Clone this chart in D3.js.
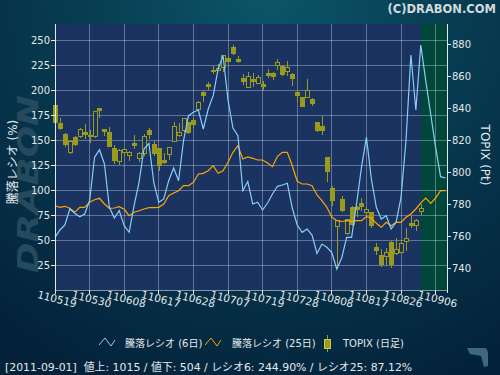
<!DOCTYPE html>
<html>
<head>
<meta charset="utf-8">
<script src="https://cdn.jsdelivr.net/npm/d3@7"></script>
<style>
  html, body { margin: 0; padding: 0; background: #052a3e; }
  svg { display: block; }
  text { font-family: "DejaVu Sans", "Noto Sans CJK JP", sans-serif; }
</style>
</head>
<body>
<div id="chart"></div>
<script>
// trading days (yymmdd), the last few only carry the ratio lines
const dates = [
  "110519","110520","110523","110524","110525","110526","110527","110530","110531",
  "110601","110602","110603","110606","110607","110608","110609","110610","110613","110614","110615",
  "110616","110617","110620","110621","110622","110623","110624","110627","110628","110629","110630",
  "110701","110704","110705","110706","110707","110708","110711","110712","110713","110714","110715",
  "110719","110720","110721","110722","110725","110726","110727","110728","110729",
  "110801","110802","110803","110804","110805","110808","110809","110810","110811","110812","110815",
  "110816","110817","110818","110819","110822","110823","110824","110825","110826","110829","110830","110831",
  "110901","110902","110905","110906","110907","110908"
];

// TOPIX daily candles (Pt)
const topixOpen = [841.6,830.2,823.9,812.1,821.9,822.2,825.0,823.3,822.2,839.7,826.9,825.0,814.6,806.7,812.3,810.4,818.3,808.4,811.9,826.4,
  817.1,814.6,807.7,811.0,819.4,822.9,826.4,830.8,832.2,838.9,849.5,854.5,863.8,863.8,865.5,870.7,877.9,870.2,858.6,853.0,
  857.6,855.5,854.5,861.9,861.7,866.5,865.9,862.7,861.3,849.9,846.4,846.8,845.7,831.2,828.7,809.0,789.7,766.4,783.4,762.0,
  778.2,778.2,780.8,775.1,775.1,752.9,748.5,747.7,756.5,749.2,749.8,756.8,767.9,766.8,775.8];
const topixHigh = [843.1,833.9,824.4,819.8,822.7,827.7,830.2,826.4,838.4,840.1,827.2,828.1,816.9,814.6,815.2,813.5,823.3,812.5,823.9,827.5,
  819.8,815.2,812.1,816.0,831.2,830.8,833.9,831.4,833.7,844.3,850.5,856.3,866.5,867.5,873.1,872.7,879.4,872.3,861.3,862.4,
  861.7,860.9,856.8,864.4,862.4,870.7,866.9,869.2,861.7,851.5,846.8,858.2,846.4,831.6,835.0,809.8,791.3,770.3,785.1,770.9,
  779.2,779.2,784.1,778.2,775.5,755.8,752.3,752.9,757.5,759.1,756.5,765.4,773.7,770.9,780.3];
const topixLow = [829.5,826.4,816.0,811.5,816.6,821.4,820.8,818.1,821.6,833.9,822.7,815.6,805.2,804.8,810.4,807.3,814.6,806.7,810.4,820.6,
  810.0,801.1,805.2,807.7,818.8,822.2,825.4,823.9,827.7,838.1,843.7,851.5,861.3,863.0,862.7,868.0,873.3,868.0,854.6,852.6,
  853.0,855.1,851.5,858.6,857.8,864.0,860.3,859.9,854.0,844.1,840.9,846.4,841.6,825.2,823.5,793.8,779.3,739.8,775.1,761.2,
  766.8,772.0,776.1,772.4,765.4,748.7,741.3,741.9,740.3,748.7,749.2,751.2,765.4,763.7,773.5];
const topixClose = [830.8,827.2,817.3,819.1,817.3,827.0,823.5,822.2,838.1,838.4,825.2,816.0,807.3,813.5,814.0,812.7,816.6,811.9,822.5,823.9,
  811.5,804.2,805.9,815.6,828.7,825.0,833.3,824.6,829.7,843.7,847.8,853.4,862.7,865.0,872.7,869.2,874.2,869.2,856.5,859.9,
  856.5,859.3,853.4,860.1,859.6,868.6,861.3,865.5,858.6,847.8,841.2,851.3,843.2,826.0,826.0,800.4,782.4,769.9,776.1,770.5,
  767.8,777.0,778.6,776.6,766.8,751.2,742.5,750.2,742.5,751.7,755.8,758.5,766.6,770.3,777.8];

// advance/decline ratio (%)
const ratio6 = [52.7,60,65,81,76.7,73.3,76,89.3,132.7,140.3,126,82.7,72,79.3,64.3,57.7,84.3,107.7,141,146.7,
  107,87.7,91,109.3,122,109.3,149.3,174.3,177.7,180,161,181,194.3,221,234.3,190,162,154.3,99.3,108.5,
  86,87.7,80,87,96,103.7,105,106.7,82,65,57.7,61,55,36.7,46,42.7,37.5,21,32,52.7,
  52.7,86,122.7,152.7,111,82.7,71,74.3,61,67.7,92.7,149.3,235,180,244.9,209.3,176,142.7,113.3,112];
const ratio25 = [84.3,82.7,83.7,81.7,77.7,82.7,82.7,87.7,90.3,91.7,86,81.7,82,83.3,80.7,74.3,77.7,79.3,81,82.3,
  82.3,82.7,86,94.3,97,99.3,104.3,104.3,107.7,116,116.7,119.3,124.3,116.7,119.3,127.7,137.7,144.3,131,133,
  131.7,130,130,127,123.3,133.7,137.7,137.7,124.3,108.7,106,106,104.3,95,89.3,82.7,73,69.3,68.5,69.3,
  68.7,69.3,69.3,73.3,72,66.7,62.7,67.7,64.3,67.7,67.7,72.7,76,81,87.1,92,86.7,92,99.3,99.3];

const leftTicks = [25,50,75,100,125,150,175,200,225,250];
const rightTicks = [740,760,780,800,820,840,860,880];
const dateTickIdx = [0,7,14,21,28,35,42,49,56,63,70,77];
const lastDataIdx = 74;   // 2011-09-01, start of the green band

const seriesNames = ["騰落レシオ (6日)", "騰落レシオ (25日)", "TOPIX (日足)"];
const statusLine = "[2011-09-01]  値上: 1015 / 値下: 504 / レシオ6: 244.90% / レシオ25: 87.12%";

const width = 500, height = 375;
const plot = {left: 55, right: 447, top: 24, bottom: 290};

const svg = d3.select("#chart").append("svg")
  .attr("width", width)
  .attr("height", height);

// background
const defs = svg.append("defs");
const bg = defs.append("radialGradient")
  .attr("id", "bg").attr("gradientUnits", "userSpaceOnUse")
  .attr("cx", 270).attr("cy", -10).attr("r", 430);
bg.append("stop").attr("offset", 0).attr("stop-color", "#0c5668");
bg.append("stop").attr("offset", 0.45).attr("stop-color", "#073c52");
bg.append("stop").attr("offset", 1).attr("stop-color", "#03223a");
svg.append("rect").attr("width", width).attr("height", height).attr("fill", "url(#bg)");

// watermark
svg.append("text")
  .attr("transform", "translate(38,184) rotate(-90)")
  .attr("text-anchor", "middle")
  .attr("textLength", 178).attr("lengthAdjust", "spacingAndGlyphs")
  .style("font-size", "29px").style("font-weight", "bold").style("font-style", "italic")
  .attr("fill", "#254a5d")
  .text("DRABON");

svg.append("text")
  .attr("x", 496).attr("y", 13)
  .attr("text-anchor", "end")
  .style("font-size", "11.5px").style("font-weight", "bold")
  .attr("fill", "#d2dadd")
  .text("(C)DRABON.COM");

// scales
const x = d3.scaleLinear().domain([0, 79.3]).range([plot.left, plot.right]);
const yL = d3.scaleLinear().domain([0, 266]).range([plot.bottom, plot.top]);
const yR = d3.scaleLinear().domain([726.7, 892.5]).range([plot.bottom, plot.top]);

// plot area
svg.append("rect")
  .attr("x", plot.left).attr("y", plot.top)
  .attr("width", plot.right - plot.left).attr("height", plot.bottom - plot.top)
  .attr("fill", "#1a3360");
svg.append("rect")
  .attr("x", x(lastDataIdx)).attr("y", plot.top)
  .attr("width", plot.right - x(lastDataIdx)).attr("height", plot.bottom - plot.top)
  .attr("fill", "#01463a");

const grid = svg.append("g")
  .attr("stroke", "rgba(255,255,255,0.32)")
  .attr("shape-rendering", "crispEdges");
grid.selectAll("line.h").data(leftTicks).join("line")
  .attr("class", "h")
  .attr("x1", plot.left).attr("x2", plot.right)
  .attr("y1", d => yL(d)).attr("y2", d => yL(d));
grid.selectAll("line.v").data(dateTickIdx.slice(1)).join("line")
  .attr("class", "v")
  .attr("x1", d => x(d)).attr("x2", d => x(d))
  .attr("y1", plot.top).attr("y2", plot.bottom);

// candles
const candles = topixClose.map((c, i) => ({i: i, o: topixOpen[i], h: topixHigh[i], l: topixLow[i], c: c}));
const olive = "#9a9a1c";
const cg = svg.append("g").attr("shape-rendering", "crispEdges");
cg.selectAll("line").data(candles).join("line")
  .attr("x1", d => Math.round(x(d.i)) + 0.5).attr("x2", d => Math.round(x(d.i)) + 0.5)
  .attr("y1", d => yR(d.h)).attr("y2", d => yR(d.l))
  .attr("stroke", olive);
cg.selectAll("rect").data(candles).join("rect")
  .attr("x", d => Math.round(x(d.i)) - 1.5)
  .attr("width", 4)
  .attr("y", d => yR(Math.max(d.o, d.c)))
  .attr("height", d => Math.max(1, Math.abs(yR(d.o) - yR(d.c))))
  .attr("fill", d => d.c > d.o ? "#1a3360" : olive)
  .attr("stroke", olive);

// ratio lines
const line = d3.line().x((d, i) => x(i)).y(d => yL(d));
svg.append("path").datum(ratio25)
  .attr("d", line).attr("fill", "none")
  .attr("stroke", "#ffa500").attr("stroke-width", 1.2);
svg.append("path").datum(ratio6)
  .attr("d", line).attr("fill", "none")
  .attr("stroke", "#87cefa").attr("stroke-width", 1.2);

// axes
const axisCol = "#e4e8ea";
const ax = svg.append("g").attr("stroke", axisCol).attr("shape-rendering", "crispEdges");
ax.append("line").attr("x1", plot.left).attr("x2", plot.left).attr("y1", plot.top).attr("y2", plot.bottom + 3);
ax.append("line").attr("x1", plot.right).attr("x2", plot.right).attr("y1", plot.top).attr("y2", plot.bottom + 3);
ax.append("line").attr("x1", plot.left).attr("x2", plot.right).attr("y1", plot.bottom).attr("y2", plot.bottom)
  .attr("stroke", "rgba(255,255,255,0.5)");
ax.selectAll("line.lt").data(leftTicks).join("line").attr("class", "lt")
  .attr("x1", plot.left - 4).attr("x2", plot.left)
  .attr("y1", d => yL(d)).attr("y2", d => yL(d));
ax.selectAll("line.rt").data(rightTicks).join("line").attr("class", "rt")
  .attr("x1", plot.right).attr("x2", plot.right + 4)
  .attr("y1", d => yR(d)).attr("y2", d => yR(d));
ax.selectAll("line.xt").data(dateTickIdx).join("line").attr("class", "xt")
  .attr("x1", d => x(d)).attr("x2", d => x(d))
  .attr("y1", plot.bottom).attr("y2", plot.bottom + 4);

svg.append("g").selectAll("text").data(leftTicks).join("text")
  .attr("x", plot.left - 5).attr("y", d => yL(d)).attr("dy", "0.36em")
  .attr("text-anchor", "end").attr("fill", axisCol).style("font-size", "10px")
  .text(d => d);
svg.append("g").selectAll("text").data(rightTicks).join("text")
  .attr("x", plot.right + 5).attr("y", d => yR(d)).attr("dy", "0.36em")
  .attr("fill", axisCol).style("font-size", "10px")
  .text(d => d);
svg.append("g").selectAll("text").data(dateTickIdx).join("text")
  .attr("transform", d => `translate(${x(d) + 2},${plot.bottom + 9}) rotate(14)`)
  .attr("dy", "0.36em").attr("text-anchor", "middle")
  .attr("fill", axisCol).style("font-size", "10.5px")
  .text(d => dates[d]);

svg.append("text")
  .attr("transform", "translate(17,162) rotate(-90)")
  .attr("text-anchor", "middle").attr("fill", axisCol).style("font-size", "12px")
  .text("騰落レシオ (%)");
svg.append("text")
  .attr("transform", "translate(481,155) rotate(90)")
  .attr("text-anchor", "middle").attr("fill", axisCol).style("font-size", "12px")
  .text("TOPIX (Pt)");

// legend
const lg = svg.append("g");
const zig = [[0, 7], [6, 0], [12, 8], [16, 2]];
[["#87cefa", 99], ["#ffa500", 205]].forEach(([col, lx]) => {
  lg.append("polyline")
    .attr("points", zig.map(p => [lx + p[0], 338 + p[1]].join(",")).join(" "))
    .attr("fill", "none").attr("stroke", col).attr("stroke-width", 1);
});
lg.append("line").attr("x1", 327.5).attr("x2", 327.5).attr("y1", 335).attr("y2", 352).attr("stroke", olive);
lg.append("rect").attr("x", 324.5).attr("y", 339.5).attr("width", 6).attr("height", 9)
  .attr("fill", olive).attr("stroke", "#c8c84a");
lg.selectAll("text").data(seriesNames).join("text")
  .attr("x", (d, i) => [125, 232, 343][i]).attr("y", 347)
  .attr("fill", axisCol).style("font-size", "10px")
  .text(d => d);

svg.append("text")
  .attr("x", 5).attr("y", 371)
  .attr("fill", axisCol).style("font-size", "10.9px").style("white-space", "pre")
  .text(statusLine);

// small corner logo
svg.append("path")
  .attr("d", "M467,348 L486,348 L488,352 L488,366 L484,367 L481,356 L476,355 L470,354 Z")
  .attr("fill", "#3d697c");
</script>
</body>
</html>
